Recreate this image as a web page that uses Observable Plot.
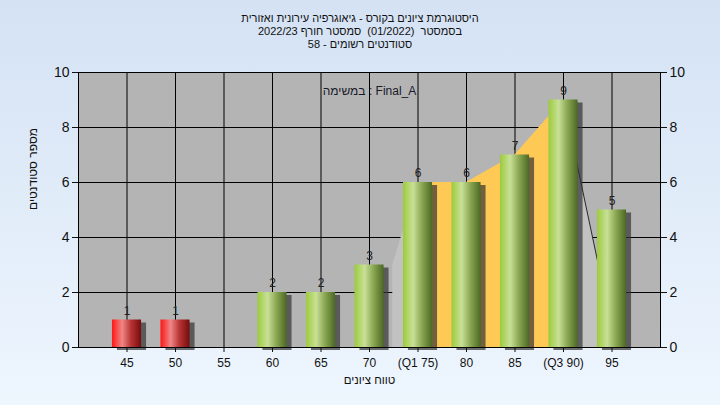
<!DOCTYPE html>
<html><head><meta charset="utf-8">
<script src="https://cdn.jsdelivr.net/npm/d3@7"></script>
<script src="https://cdn.jsdelivr.net/npm/@observablehq/plot@0.6"></script>
<style>
html,body{margin:0;padding:0;}
body{width:720px;height:405px;overflow:hidden;background:linear-gradient(to bottom,#d4e2f4,#eef6fe);font-family:"Liberation Sans",Arial,sans-serif;position:relative;}
#title{position:absolute;top:12px;left:0;width:720px;text-align:center;font-size:11px;line-height:13px;color:#111;}
#chart{position:absolute;top:0;left:0;}
</style></head>
<body><div id="chart"></div><div id="title"></div>
<script>
// ---- data ----
const titleLines = [
  "היסטוגרמת ציונים בקורס - גיאוגרפיה עירונית ואזורית",
  "בסמסטר  (01/2022)  סמסטר חורף 2022/23",
  "סטודנטים רשומים - 58"
];
const legendText = "במשימה : Final_A";
const yLabel = "מספר סטודנטים";
const xLabel = "טווח ציונים";
const grades = [45, 50, 55, 60, 65, 70, 75, 80, 85, 90, 95];
const tickLabels = ["45", "50", "55", "60", "65", "70", "(Q1 75)", "80", "85", "(Q3 90)", "95"];
const counts = [1, 1, 0, 2, 2, 3, 6, 6, 7, 9, 5];
const passMark = 55;
const q1 = 75, q3 = 90;
const curveX = [72.4, 75, 80, 85, 90, 92.4, 93.6, 95];
const curveY = [3, 6, 6, 7, 9, 5, 3, 0];
const yTicks = [0, 2, 4, 6, 8, 10];

// ---- build ----
const titleDiv = document.getElementById("title");
titleLines.forEach(t => { const d = document.createElement("div"); d.textContent = t; d.style.whiteSpace = "pre"; titleDiv.appendChild(d); });

const bars = grades.map((g, i) => ({grade: g, count: counts[i]})).filter(d => d.count > 0);
const curve = curveX.map((x, i) => ({x, y: curveY[i]}));
const zone = (lo, hi) => curve.filter(d => d.x >= lo && d.x <= hi);
const labelOf = new Map(grades.map((g, i) => [g, tickLabels[i]]));
const hw = 1.5;

const plot = Plot.plot({
  width: 720, height: 405,
  marginTop: 72, marginBottom: 58, marginLeft: 78, marginRight: 60,
  style: {background: "transparent", fontFamily: "'Liberation Sans', Arial, sans-serif", color: "#111"},
  x: {domain: [40, 100]},
  y: {domain: [0, 10]},
  marks: [
    Plot.frame({fill: "#b4b4b4", stroke: "none"}),
    Plot.gridY(yTicks, {stroke: "#000", strokeOpacity: 1}),
    Plot.gridX(grades, {stroke: "#000", strokeOpacity: 1}),
    Plot.areaY(zone(-Infinity, q1), {x: "x", y: "y", fill: "#c2c2c2"}),
    Plot.areaY(zone(q3, Infinity), {x: "x", y: "y", fill: "#c2c2c2"}),
    Plot.areaY(zone(q1, q3), {x: "x", y: "y", fill: "#ffc955"}),
    Plot.line(zone(q3, 93.6), {x: "x", y: "y", stroke: "#2a2a2a", strokeWidth: 1}),
    Plot.rect(bars, {x1: d => d.grade - hw, x2: d => d.grade + hw, y1: 0, y2: "count", dx: 5, dy: 3, fill: "#333", fillOpacity: 0.7, ariaLabel: "shadow"}),
    Plot.rect(bars.filter(d => d.grade < passMark), {x1: d => d.grade - hw, x2: d => d.grade + hw, y1: 0, y2: "count", fill: "url(#gRed)"}),
    Plot.rect(bars.filter(d => d.grade >= passMark), {x1: d => d.grade - hw, x2: d => d.grade + hw, y1: 0, y2: "count", fill: "url(#gGreen)"}),
    Plot.text(bars, {x: "grade", y: "count", text: "count", dy: -9, fontSize: 12, fill: "#222"}),
    Plot.text([legendText], {frameAnchor: "top", dy: 14, fontSize: 12, fill: "#1a1a2a"}),
    Plot.frame({stroke: "#000", fill: "none"}),
    Plot.axisY(yTicks, {anchor: "left", tickSize: 6, tickPadding: 3, fontSize: 14, label: null}),
    Plot.axisY(yTicks, {anchor: "right", tickSize: 6, tickPadding: 3, fontSize: 14, label: null}),
    Plot.axisX(grades, {tickSize: 5, tickPadding: 6, fontSize: 12, tickFormat: d => labelOf.get(d), label: null}),
    Plot.text([yLabel], {frameAnchor: "left", rotate: -90, dx: -45, fontSize: 12, fill: "#111"}),
    Plot.text([xLabel], {frameAnchor: "bottom", dy: 36, fontSize: 11.5, fill: "#111"})
  ]
});

const svg = d3.select(plot);
const defs = svg.insert("defs", ":first-child");
function grad(id, stops) {
  const g = defs.append("linearGradient").attr("id", id).attr("x1", 0).attr("x2", 1).attr("y1", 0).attr("y2", 0);
  stops.forEach(([o, c]) => g.append("stop").attr("offset", o).attr("stop-color", c));
}
grad("gGreen", [[0, "#9ccb3c"], [0.35, "#c8e097"], [0.65, "#8aa752"], [1, "#4c6824"]]);
grad("gRed", [[0, "#ff1616"], [0.35, "#f08686"], [0.65, "#b83434"], [1, "#760c0c"]]);
svg.selectAll('g[aria-label="shadow"]').style("filter", "blur(2.5px)");
document.getElementById("chart").appendChild(plot);
</script>
</body></html>
